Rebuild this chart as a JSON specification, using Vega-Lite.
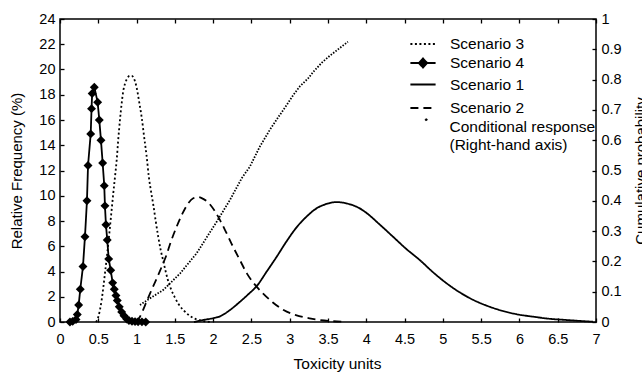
{
  "$schema": "https://vega.github.io/schema/vega-lite/v6.json",
  "width": 536,
  "height": 303,
  "autosize": "none",
  "padding": {"left": 60, "top": 19, "right": 46, "bottom": 50},
  "background": "white",
  "config": {
    "font": "Liberation Sans",
    "view": {"stroke": "black", "strokeWidth": 1.5, "fill": null},
    "axis": {
      "domain": false, "grid": false, "zindex": 1,
      "ticks": true, "tickColor": "black", "tickWidth": 1.3, "tickSize": 4, "offset": -4, "tickOpacity": 1,
      "labelColor": "black", "labelFont": "Liberation Sans", "labelFontSize": 14.5,
      "titleColor": "black", "titleFont": "Liberation Sans", "titleFontWeight": "normal"
    },
    "legend": {
      "title": null, "orient": "none", "padding": 0, "symbolSize": 196, "labelOffset": 19, "labelLimit": 400,
      "labelFont": "Liberation Sans", "labelFontSize": 15.5, "labelColor": "black",
      "symbolStrokeColor": "black", "symbolStrokeWidth": 1.8, "symbolOpacity": 1
    }
  },
  "datasets": {
    "s3": [
      {"series": "Scenario 3", "x": 0.47, "y": 0}, {"series": "Scenario 3", "x": 0.5, "y": 0.4}, {"series": "Scenario 3", "x": 0.544, "y": 1.74}, {"series": "Scenario 3", "x": 0.587, "y": 3.85}, {"series": "Scenario 3", "x": 0.62, "y": 5.6}, {"series": "Scenario 3", "x": 0.644, "y": 7.0}, {"series": "Scenario 3", "x": 0.67, "y": 8.6}, {"series": "Scenario 3", "x": 0.696, "y": 10.2}, {"series": "Scenario 3", "x": 0.72, "y": 11.6}, {"series": "Scenario 3", "x": 0.74, "y": 12.8}, {"series": "Scenario 3", "x": 0.76, "y": 14.4}, {"series": "Scenario 3", "x": 0.783, "y": 16.0}, {"series": "Scenario 3", "x": 0.805, "y": 17.3}, {"series": "Scenario 3", "x": 0.826, "y": 18.3}, {"series": "Scenario 3", "x": 0.85, "y": 18.9}, {"series": "Scenario 3", "x": 0.879, "y": 19.3}, {"series": "Scenario 3", "x": 0.91, "y": 19.5}, {"series": "Scenario 3", "x": 0.936, "y": 19.5}, {"series": "Scenario 3", "x": 0.965, "y": 19.3}, {"series": "Scenario 3", "x": 1.0, "y": 18.6}, {"series": "Scenario 3", "x": 1.035, "y": 17.4}, {"series": "Scenario 3", "x": 1.067, "y": 16.2}, {"series": "Scenario 3", "x": 1.1, "y": 14.6}, {"series": "Scenario 3", "x": 1.13, "y": 13.2}, {"series": "Scenario 3", "x": 1.16, "y": 11.5}, {"series": "Scenario 3", "x": 1.19, "y": 10.3}, {"series": "Scenario 3", "x": 1.218, "y": 9.3}, {"series": "Scenario 3", "x": 1.25, "y": 8.0}, {"series": "Scenario 3", "x": 1.283, "y": 6.75}, {"series": "Scenario 3", "x": 1.315, "y": 5.7}, {"series": "Scenario 3", "x": 1.35, "y": 4.8}, {"series": "Scenario 3", "x": 1.38, "y": 4.0}, {"series": "Scenario 3", "x": 1.41, "y": 3.3}, {"series": "Scenario 3", "x": 1.45, "y": 2.6}, {"series": "Scenario 3", "x": 1.5, "y": 1.95}, {"series": "Scenario 3", "x": 1.55, "y": 1.4}, {"series": "Scenario 3", "x": 1.61, "y": 0.95}, {"series": "Scenario 3", "x": 1.68, "y": 0.55}, {"series": "Scenario 3", "x": 1.78, "y": 0.21}, {"series": "Scenario 3", "x": 1.88, "y": 0.06}, {"series": "Scenario 3", "x": 1.98, "y": 0}
    ],
    "s2": [
      {"series": "Scenario 2", "x": 1.0, "y": 0}, {"series": "Scenario 2", "x": 1.044, "y": 0.42}, {"series": "Scenario 2", "x": 1.13, "y": 1.6}, {"series": "Scenario 2", "x": 1.2, "y": 2.6}, {"series": "Scenario 2", "x": 1.26, "y": 3.4}, {"series": "Scenario 2", "x": 1.33, "y": 4.4}, {"series": "Scenario 2", "x": 1.39, "y": 5.3}, {"series": "Scenario 2", "x": 1.45, "y": 6.4}, {"series": "Scenario 2", "x": 1.52, "y": 7.5}, {"series": "Scenario 2", "x": 1.6, "y": 8.6}, {"series": "Scenario 2", "x": 1.675, "y": 9.4}, {"series": "Scenario 2", "x": 1.74, "y": 9.8}, {"series": "Scenario 2", "x": 1.806, "y": 9.9}, {"series": "Scenario 2", "x": 1.87, "y": 9.75}, {"series": "Scenario 2", "x": 1.93, "y": 9.5}, {"series": "Scenario 2", "x": 2.02, "y": 8.8}, {"series": "Scenario 2", "x": 2.09, "y": 8.07}, {"series": "Scenario 2", "x": 2.17, "y": 7.1}, {"series": "Scenario 2", "x": 2.26, "y": 5.96}, {"series": "Scenario 2", "x": 2.35, "y": 4.9}, {"series": "Scenario 2", "x": 2.44, "y": 3.85}, {"series": "Scenario 2", "x": 2.54, "y": 3.0}, {"series": "Scenario 2", "x": 2.65, "y": 2.27}, {"series": "Scenario 2", "x": 2.78, "y": 1.55}, {"series": "Scenario 2", "x": 2.92, "y": 0.95}, {"series": "Scenario 2", "x": 3.08, "y": 0.55}, {"series": "Scenario 2", "x": 3.26, "y": 0.29}, {"series": "Scenario 2", "x": 3.45, "y": 0.12}, {"series": "Scenario 2", "x": 3.7, "y": 0.02}
    ],
    "s1": [
      {"series": "Scenario 1", "x": 1.75, "y": 0}, {"series": "Scenario 1", "x": 1.87, "y": 0.16}, {"series": "Scenario 1", "x": 2.0, "y": 0.3}, {"series": "Scenario 1", "x": 2.09, "y": 0.45}, {"series": "Scenario 1", "x": 2.22, "y": 0.95}, {"series": "Scenario 1", "x": 2.35, "y": 1.6}, {"series": "Scenario 1", "x": 2.46, "y": 2.2}, {"series": "Scenario 1", "x": 2.57, "y": 2.85}, {"series": "Scenario 1", "x": 2.7, "y": 4.0}, {"series": "Scenario 1", "x": 2.83, "y": 5.17}, {"series": "Scenario 1", "x": 2.96, "y": 6.4}, {"series": "Scenario 1", "x": 3.09, "y": 7.5}, {"series": "Scenario 1", "x": 3.22, "y": 8.35}, {"series": "Scenario 1", "x": 3.35, "y": 9.0}, {"series": "Scenario 1", "x": 3.48, "y": 9.35}, {"series": "Scenario 1", "x": 3.61, "y": 9.5}, {"series": "Scenario 1", "x": 3.7, "y": 9.45}, {"series": "Scenario 1", "x": 3.8, "y": 9.3}, {"series": "Scenario 1", "x": 3.9, "y": 9.05}, {"series": "Scenario 1", "x": 4.0, "y": 8.65}, {"series": "Scenario 1", "x": 4.17, "y": 7.75}, {"series": "Scenario 1", "x": 4.35, "y": 6.75}, {"series": "Scenario 1", "x": 4.52, "y": 5.8}, {"series": "Scenario 1", "x": 4.7, "y": 4.9}, {"series": "Scenario 1", "x": 4.87, "y": 3.95}, {"series": "Scenario 1", "x": 5.05, "y": 3.06}, {"series": "Scenario 1", "x": 5.22, "y": 2.35}, {"series": "Scenario 1", "x": 5.4, "y": 1.74}, {"series": "Scenario 1", "x": 5.57, "y": 1.3}, {"series": "Scenario 1", "x": 5.74, "y": 0.95}, {"series": "Scenario 1", "x": 5.96, "y": 0.62}, {"series": "Scenario 1", "x": 6.18, "y": 0.42}, {"series": "Scenario 1", "x": 6.4, "y": 0.25}, {"series": "Scenario 1", "x": 6.61, "y": 0.16}, {"series": "Scenario 1", "x": 6.8, "y": 0.08}, {"series": "Scenario 1", "x": 6.96, "y": 0.02}
    ],
    "s4": [
      {"series": "Scenario 4", "x": 0.13, "y": 0}, {"series": "Scenario 4", "x": 0.166, "y": 0.05}, {"series": "Scenario 4", "x": 0.209, "y": 0.2}, {"series": "Scenario 4", "x": 0.226, "y": 0.6}, {"series": "Scenario 4", "x": 0.244, "y": 1.35}, {"series": "Scenario 4", "x": 0.265, "y": 2.6}, {"series": "Scenario 4", "x": 0.3, "y": 4.4}, {"series": "Scenario 4", "x": 0.326, "y": 6.75}, {"series": "Scenario 4", "x": 0.352, "y": 9.6}, {"series": "Scenario 4", "x": 0.366, "y": 12.4}, {"series": "Scenario 4", "x": 0.401, "y": 14.9}, {"series": "Scenario 4", "x": 0.412, "y": 16.9}, {"series": "Scenario 4", "x": 0.42, "y": 18.1}, {"series": "Scenario 4", "x": 0.448, "y": 18.6}, {"series": "Scenario 4", "x": 0.492, "y": 17.4}, {"series": "Scenario 4", "x": 0.513, "y": 16.0}, {"series": "Scenario 4", "x": 0.535, "y": 14.4}, {"series": "Scenario 4", "x": 0.557, "y": 12.6}, {"series": "Scenario 4", "x": 0.578, "y": 10.8}, {"series": "Scenario 4", "x": 0.587, "y": 9.2}, {"series": "Scenario 4", "x": 0.6, "y": 7.7}, {"series": "Scenario 4", "x": 0.617, "y": 6.5}, {"series": "Scenario 4", "x": 0.636, "y": 5.0}, {"series": "Scenario 4", "x": 0.662, "y": 4.1}, {"series": "Scenario 4", "x": 0.688, "y": 3.1}, {"series": "Scenario 4", "x": 0.709, "y": 2.6}, {"series": "Scenario 4", "x": 0.731, "y": 2.1}, {"series": "Scenario 4", "x": 0.748, "y": 1.7}, {"series": "Scenario 4", "x": 0.774, "y": 1.2}, {"series": "Scenario 4", "x": 0.805, "y": 0.8}, {"series": "Scenario 4", "x": 0.836, "y": 0.5}, {"series": "Scenario 4", "x": 0.871, "y": 0.24}, {"series": "Scenario 4", "x": 0.9, "y": 0.12}, {"series": "Scenario 4", "x": 0.94, "y": 0.06}, {"series": "Scenario 4", "x": 0.98, "y": 0.03}, {"series": "Scenario 4", "x": 1.02, "y": 0.02}, {"series": "Scenario 4", "x": 1.07, "y": 0.01}, {"series": "Scenario 4", "x": 1.12, "y": 0}
    ],
    "cond": [
      {"series": "Conditional response", "x": 1.044, "p": 0.056}, {"series": "Conditional response", "x": 1.175, "p": 0.078}, {"series": "Conditional response", "x": 1.35, "p": 0.106}, {"series": "Conditional response", "x": 1.567, "p": 0.16}, {"series": "Conditional response", "x": 1.785, "p": 0.227}, {"series": "Conditional response", "x": 2.046, "p": 0.331}, {"series": "Conditional response", "x": 2.22, "p": 0.403}, {"series": "Conditional response", "x": 2.372, "p": 0.474}, {"series": "Conditional response", "x": 2.48, "p": 0.513}, {"series": "Conditional response", "x": 2.61, "p": 0.579}, {"series": "Conditional response", "x": 2.74, "p": 0.634}, {"series": "Conditional response", "x": 2.87, "p": 0.683}, {"series": "Conditional response", "x": 2.96, "p": 0.716}, {"series": "Conditional response", "x": 3.046, "p": 0.749}, {"series": "Conditional response", "x": 3.13, "p": 0.777}, {"series": "Conditional response", "x": 3.24, "p": 0.804}, {"series": "Conditional response", "x": 3.31, "p": 0.826}, {"series": "Conditional response", "x": 3.42, "p": 0.856}, {"series": "Conditional response", "x": 3.52, "p": 0.878}, {"series": "Conditional response", "x": 3.76, "p": 0.925}
    ]
  },
  "layer": [
    {
      "encoding": {
        "x": {"field": "x", "type": "quantitative", "scale": {"domain": [0, 7], "nice": false},
          "axis": {"values": [0, 0.5, 1, 1.5, 2, 2.5, 3, 3.5, 4, 4.5, 5, 5.5, 6, 6.5, 7], "format": "~g",
            "labelPadding": 10, "labelOverlap": false, "labelFlush": false,
            "title": "Toxicity units", "titleFontSize": 15.5, "titleX": 277, "titleY": 50, "titleAlign": "center", "titleBaseline": "alphabetic"}},
        "y": {"field": "y", "type": "quantitative", "scale": {"domain": [0, 24], "nice": false},
          "axis": {"values": [0, 2, 4, 6, 8, 10, 12, 14, 16, 18, 20, 22, 24],
            "labelPadding": 5, "labelOverlap": false,
            "title": "Relative Frequency (%)", "titleFontSize": 15, "titleX": -40, "titleY": 151.5, "titleAngle": 270, "titleAlign": "center", "titleBaseline": "bottom"}}
      },
      "layer": [
        {
          "data": {"name": "s3"},
          "mark": {"type": "line", "interpolate": "monotone", "strokeWidth": 1.8, "color": "black"},
          "encoding": {
            "strokeDash": {"field": "series", "type": "nominal", "scale": {"domain": ["Scenario 3"], "range": [[2, 2.5]]},
              "legend": {"legendX": 355, "legendY": 17, "symbolType": "M-1.8,0H1.8", "symbolFillColor": "transparent"}}
          }
        },
        {
          "data": {"name": "s4"},
          "mark": {"type": "line", "strokeWidth": 1.8, "color": "black"},
          "encoding": {
            "strokeDash": {"field": "series", "type": "nominal", "scale": {"domain": ["Scenario 4"], "range": [[1, 0]]},
              "legend": {"legendX": 355, "legendY": 36, "symbolType": "M-1.8,0H1.8M-0.6,0L0,-0.65L0.6,0L0,0.65Z", "symbolFillColor": "black"}}
          }
        },
        {
          "data": {"name": "s4"},
          "mark": {"type": "point", "shape": "diamond", "filled": true, "size": 80, "color": "black", "opacity": 1}
        },
        {
          "data": {"name": "s1"},
          "mark": {"type": "line", "interpolate": "monotone", "strokeWidth": 1.8, "color": "black"},
          "encoding": {
            "strokeDash": {"field": "series", "type": "nominal", "scale": {"domain": ["Scenario 1"], "range": [[1, 0]]},
              "legend": {"legendX": 355, "legendY": 57.5, "symbolType": "M-1.8,0H1.8", "symbolFillColor": "transparent"}}
          }
        },
        {
          "data": {"name": "s2"},
          "mark": {"type": "line", "interpolate": "monotone", "strokeWidth": 1.8, "color": "black"},
          "encoding": {
            "strokeDash": {"field": "series", "type": "nominal", "scale": {"domain": ["Scenario 2"], "range": [[8, 5]]},
              "legend": {"legendX": 355, "legendY": 81, "symbolType": "M-1.8,0H1.8", "symbolFillColor": "transparent"}}
          }
        }
      ],
      "resolve": {"scale": {"strokeDash": "independent"}, "legend": {"strokeDash": "independent"}}
    },
    {
      "data": {"name": "cond"},
      "mark": {"type": "line", "strokeWidth": 1.8, "color": "black"},
      "encoding": {
        "x": {"field": "x", "type": "quantitative",
          "axis": {"orient": "top", "values": [0, 0.5, 1, 1.5, 2, 2.5, 3, 3.5, 4, 4.5, 5, 5.5, 6, 6.5, 7], "labels": false, "title": null}},
        "y": {"field": "p", "type": "quantitative", "scale": {"domain": [0, 1], "nice": false},
          "axis": {"orient": "right", "values": [0, 0.1, 0.2, 0.3, 0.4, 0.5, 0.6, 0.7, 0.8, 0.9, 1], "format": "~g",
            "labelPadding": 5, "labelOverlap": false,
            "title": "Cumulative probability", "titleFontSize": 15, "titleX": 41, "titleY": 151.5, "titleAngle": 270, "titleAlign": "center", "titleBaseline": "top"}},
        "strokeDash": {"field": "series", "type": "nominal", "scale": {"domain": ["Conditional response"], "range": [[1.5, 1.5]]},
          "legend": {"legendX": 355, "legendY": 100.7, "symbolType": "M0.33,-1.1A0.17,0.17 0 1,0 0.67,-1.1A0.17,0.17 0 1,0 0.33,-1.1Z", "symbolFillColor": "black", "symbolStrokeWidth": 0.5,
            "labelExpr": "[datum.label, '(Right-hand axis)']"}}
      }
    }
  ],
  "resolve": {"scale": {"y": "independent", "strokeDash": "independent"}, "axis": {"x": "independent"}, "legend": {"strokeDash": "independent"}}
}
